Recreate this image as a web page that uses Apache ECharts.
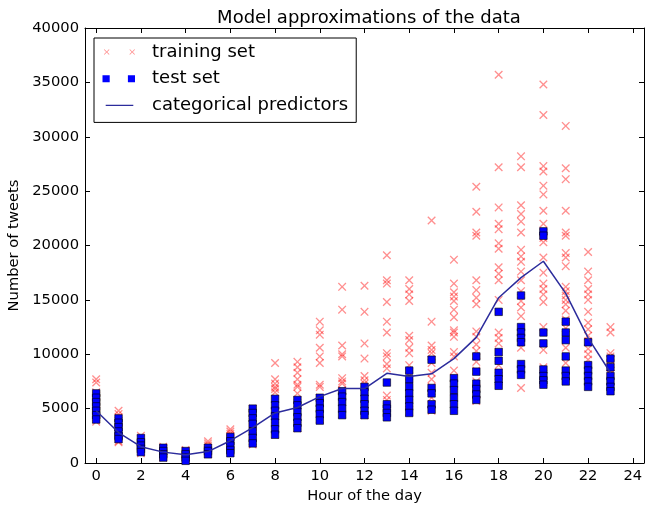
<!DOCTYPE html>
<html><head><meta charset="utf-8">
<script src="https://cdn.jsdelivr.net/npm/echarts@6/dist/echarts.min.js"></script>
<style>html,body{margin:0;padding:0;background:#fff}#c{width:646px;height:505px}</style>
</head><body><div id="c"></div>
<script>
const hours = [0,1,2,3,4,5,6,7,8,9,10,11,12,13,14,15,16,17,18,19,20,21,22,23];
const trainingValues = [
  [7700,7400,6500,6200,5900,5500,5100,4800,4500,4200,4000,3800],
  [4800,4500,4200,3300,3000,2700,2400,2200,2000,1900],
  [2500,2200,1800,1500,1300,1100,900],
  [1500,1300,1100,900,700,500],
  [1200,1100,900,700,500,300],
  [2000,1800,1600,1400,1200,1000,800],
  [3100,2900,2700,2500,2200,1900,1500,1100],
  [5000,4600,4200,3800,3300,3000,2800,2500,2000,1700],
  [9200,7700,7300,7000,6800,6500,4700,4300,4000,3000,2600],
  [9300,8800,8300,7700,7200,7000,6400,5500,4000,3200],
  [13000,12200,11800,10600,9800,9200,7200,7000,6000,4000],
  [16200,14100,10800,10000,9800,7800,7500,7300,6700,4500],
  [16300,13900,11000,9600,8000,7600,7300,5300,4800,4400],
  [19100,16800,16500,14800,13000,12000,10100,9800,9100,8700,6200,5800],
  [16800,16000,15500,14900,11700,11300,10600,10100,9000,8000,5500,4700],
  [22300,13000,10800,10400,10100,9200,8300,7700,7000,6000,5300,4800],
  [18700,16500,15700,15300,14900,14100,13400,12200,12000,11600,10200,9800,8500,7800,6500],
  [25400,23100,21200,20900,16800,15900,15200,14600,12100,11600,10900,10300,9300,8500,7500,6400,5700],
  [35700,27200,23500,22000,21500,20200,19700,18000,17400,16800,15000,12000,11500,11000,10200,9000,8000,7500],
  [28200,27200,23700,22900,22200,21200,19600,19000,18500,17600,16800,15800,14900,14300,13500,10600,6900],
  [34800,32000,27300,26800,25500,24700,23200,22000,21200,20700,20300,18900,17500,16500,16000,15500,14800,12500,10400,8800,7400],
  [31000,27100,26100,23200,21200,20900,19300,18900,18100,16200,15800,15400,15000,14600,14000,13200,12400,10600,9200,8000],
  [19400,17600,16800,16000,15500,15000,13900,12900,12300,11700,11200,10500,10000,9500],
  [12500,12000,10100,9800,9500,9100,8800,8500,8200]
];
const testValues = [
  [6400,6000,5600,5200,4800,4400,4000],
  [4100,3700,3300,2900,2500,2200],
  [2300,1900,1600,1300,1000],
  [1400,1100,800,500],
  [1100,800,500,200],
  [1400,1100,800],
  [2400,2000,1600,1200,900],
  [5000,4600,4100,3600,2900,2300,1800],
  [5900,5300,4800,4300,3700,3100,2600],
  [5800,5300,4700,4200,3700,3200],
  [6000,5500,5000,4500,3900],
  [6600,6100,5600,5000,4400],
  [7000,6500,5900,5400,4800,4400],
  [7400,5400,5000,4600,4200],
  [8500,7700,7000,6400,5800,5200,4600],
  [9500,6900,6400,5400,4900],
  [7800,7300,6700,6000,5400,4800],
  [9800,8400,7300,6800,6300,5800],
  [13900,10200,9400,8300,7700,7100],
  [15400,12500,12000,11500,11100,9100,8600,8100],
  [21300,20900,12000,11000,8600,8000,7600,7200],
  [13000,12000,11300,9800,8500,8000,7500],
  [11100,9000,8500,8000,7500,7000],
  [9600,8800,8000,7500,7000,6600]
];
const predictorValues = [4800,2800,1500,1000,750,1050,2050,3250,4600,5100,6100,6850,6850,8250,7950,8200,9600,11550,15200,17050,18550,15600,11500,8300];
const xTickValues = [0,2,4,6,8,10,12,14,16,18,20,22,24];

const FONT = 'DejaVu Sans';
function xPoly(cx, cy, r, t) {
  const p = [[cx-r,cy-r+t],[cx-r+t,cy-r],[cx,cy-t],[cx+r-t,cy-r],[cx+r,cy-r+t],[cx+t,cy],
             [cx+r,cy+r-t],[cx+r-t,cy+r],[cx,cy+t],[cx-r+t,cy+r],[cx-r,cy+r-t],[cx-t,cy]];
  return 'M' + p.map(q => q[0].toFixed(2) + ',' + q[1].toFixed(2)).join('L') + 'Z';
}
const corners = 'M0,0L0.01,0L0,0.01ZM33,8L32.99,8L33,7.99Z';
const xSymbol = 'path://' + xPoly(5, 5, 5, 1.1);
const xLegendIcon = 'path://' + corners + xPoly(4.7, 4, 2.8, 0.6) + xPoly(30.3, 4, 2.8, 0.6);
const sqLegendIcon = 'path://M0.5,0.6L7.7,0.6L7.7,7.6L0.5,7.6ZM25.9,0.6L33,0.6L33,7.6L25.9,7.6Z' + corners;
const lineLegendIcon = 'path://' + corners + 'M3.7,3.3L31.3,3.3L31.3,4.7L3.7,4.7Z';

const trainData = [], testData = [], predData = [];
hours.forEach((h, i) => {
  trainingValues[i].forEach(v => trainData.push([h, v]));
  testValues[i].forEach(v => testData.push([h, v]));
  predData.push([h, predictorValues[i]]);
});

const tickStyle = {show: true, inside: true, length: 5, lineStyle: {color: '#000', width: 1}};
const lineStyleAxis = {show: true, onZero: false, lineStyle: {color: '#000', width: 1}};
const chart = echarts.init(document.getElementById('c'));
chart.setOption({
  animation: false,
  backgroundColor: '#fff',
  textStyle: {fontFamily: FONT},
  title: {
    text: 'Model approximations of the data', left: 364, top: 4, textAlign: 'center',
    textStyle: {fontFamily: FONT, fontSize: 18, fontWeight: 'normal', color: '#000'}
  },
  grid: {left: 85, right: 2, top: 28, bottom: 42, containLabel: false, outerBoundsMode: 'none'},
  legend: {
    left: 94, top: 38, orient: 'vertical', selectedMode: false,
    backgroundColor: '#fff', borderColor: '#000', borderWidth: 1, borderRadius: 0,
    padding: [4, 8, 7, 8], itemGap: 6.7, itemWidth: 33, itemHeight: 8,
    textStyle: {fontFamily: FONT, fontSize: 18, color: '#000', lineHeight: 20, padding: [0, 0, 0, 12]},
    data: [
      {name: 'training set', icon: xLegendIcon},
      {name: 'test set', icon: sqLegendIcon, itemStyle: {borderWidth: 0}},
      {name: 'categorical predictors', icon: lineLegendIcon}
    ]
  },
  xAxis: [
    {
      type: 'value', min: -0.5, max: 24.5, position: 'bottom',
      name: 'Hour of the day', nameLocation: 'middle', nameGap: 24,
      nameTextStyle: {fontFamily: FONT, fontSize: 14.7, color: '#000'},
      axisLine: lineStyleAxis,
      axisTick: Object.assign({customValues: xTickValues}, tickStyle),
      axisLabel: {customValues: xTickValues, margin: 6, fontFamily: FONT, fontSize: 14.7, color: '#000',
                  formatter: v => String(v)},
      splitLine: {show: false}
    },
    {
      type: 'value', min: -0.5, max: 24.5, position: 'top',
      axisLine: lineStyleAxis,
      axisTick: Object.assign({customValues: xTickValues}, tickStyle),
      axisLabel: {show: false},
      splitLine: {show: false}
    }
  ],
  yAxis: [
    {
      type: 'value', min: 0, max: 40000, interval: 5000, position: 'left',
      name: 'Number of tweets', nameLocation: 'middle', nameGap: 57,
      nameTextStyle: {fontFamily: FONT, fontSize: 14.7, color: '#000'},
      axisLine: lineStyleAxis, axisTick: tickStyle,
      axisLabel: {margin: 6, fontFamily: FONT, fontSize: 14.7, color: '#000', formatter: v => String(v)},
      splitLine: {show: false}
    },
    {
      type: 'value', min: 0, max: 40000, interval: 5000, position: 'right',
      axisLine: lineStyleAxis, axisTick: tickStyle,
      axisLabel: {show: false}, splitLine: {show: false}
    }
  ],
  series: [
    {
      name: 'training set', type: 'scatter', xAxisIndex: 0, yAxisIndex: 0,
      symbol: xSymbol, symbolSize: 8.5, data: trainData,
      itemStyle: {color: 'rgba(255,0,0,0.55)'}
    },
    {
      name: 'test set', type: 'scatter', xAxisIndex: 0, yAxisIndex: 0,
      symbol: 'rect', symbolSize: 7.5, data: testData,
      itemStyle: {color: '#0000ff', borderColor: '#000', borderWidth: 0.6, opacity: 1}
    },
    {
      name: 'categorical predictors', type: 'line', xAxisIndex: 0, yAxisIndex: 0,
      data: predData, showSymbol: false, symbol: 'none',
      lineStyle: {color: '#2c2c9c', width: 1.5},
      itemStyle: {color: '#2c2c9c'}
    }
  ]
});
</script></body></html>
